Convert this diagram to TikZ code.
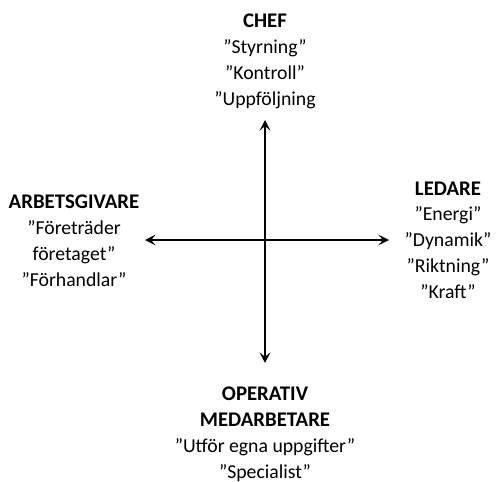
\documentclass[tikz,border=0pt]{standalone}
\usepackage{fontspec}
\setmainfont{Carlito}
\usetikzlibrary{arrows.meta}
\newcommand{\hd}[1]{{\fontsize{15.6}{19.3}\selectfont\bfseries #1}}
\begin{document}
\begin{tikzpicture}[x=0.75pt,y=-0.75pt,
  lbl/.style={align=center,anchor=base,inner sep=0pt,font=\fontsize{14.8}{19.3}\selectfont},
  axis/.style={line width=1.6pt,{Stealth[length=8pt,width=8pt,inset=3.5pt]}-{Stealth[length=8pt,width=8pt,inset=3.5pt]}}]
\useasboundingbox (0,0) rectangle (498,481);
\node[lbl] (chef) at (265,105) {\hd{CHEF}\\”Styrning”\\”Kontroll”\\”Uppföljning};
\node[lbl] (arb) at (74,286) {\hd{ARBETSGIVARE}\\”Företräder\\företaget”\\”Förhandlar”};
\node[lbl] (led) at (448,298) {\hd{LEDARE}\\”Energi”\\”Dynamik”\\”Riktning”\\”Kraft”};
\node[lbl] (op) at (265,478) {\hd{OPERATIV}\\\hd{MEDARBETARE}\\”Utför egna uppgifter”\\”Specialist”};
\coordinate (n) at (265,120);
\coordinate (s) at (265,363);
\coordinate (w) at (145,240);
\coordinate (e) at (389,240);
\draw[axis] (n) -- (s);
\draw[axis] (w) -- (e);
\end{tikzpicture}
\end{document}
